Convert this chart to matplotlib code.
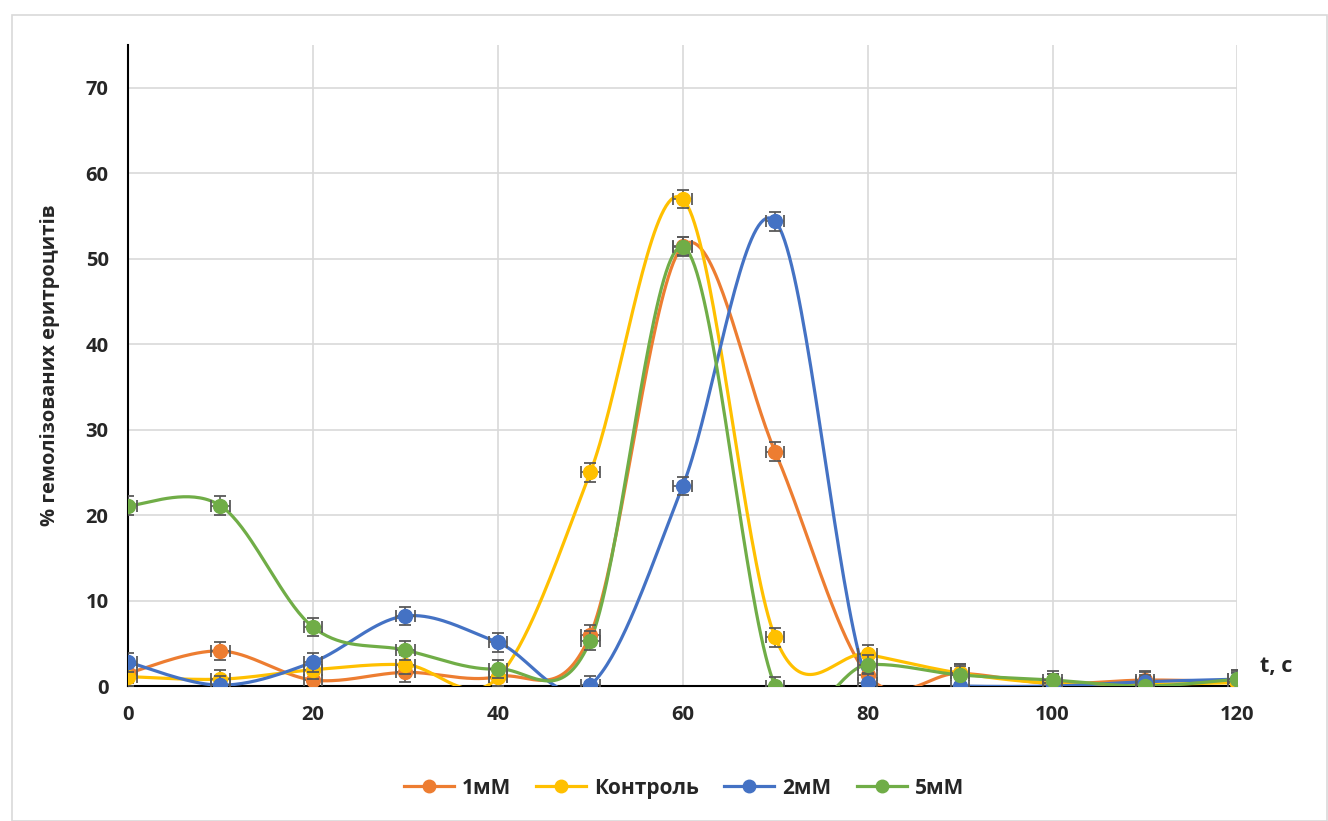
import numpy as np
import matplotlib
matplotlib.use("Agg")
import matplotlib.pyplot as plt
from matplotlib.lines import Line2D
from matplotlib.patches import Rectangle

plt.rcParams['font.family'] = ['Open Sans', 'DejaVu Sans']

t = [0, 10, 20, 30, 40, 50, 60, 70, 80, 90, 100, 110, 120]

series_names = ["1мМ", "Контроль", "2мМ", "5мМ"]
series_colors = ["#ED7D31", "#FFC000", "#4472C4", "#70AD47"]

vals_1mm = [1.5, 4.1, 0.7, 1.6, 1.1, 6.0, 51.5, 27.4, 1.3, 1.5, 0.3, 0.7, 0.5]
vals_control = [1.1, 0.8, 1.9, 2.5, 1.0, 25.0, 57.0, 5.7, 3.7, 1.5, 0.3, 0.2, 0.4]
vals_2mm = [2.8, 0.1, 2.8, 8.2, 5.1, 0.1, 23.4, 54.4, 0.4, 0.0, 0.0, 0.5, 0.8]
vals_5mm = [21.1, 21.1, 6.9, 4.2, 2.0, 5.3, 51.4, 0.0, 2.5, 1.3, 0.7, 0.0, 0.8]

all_vals = [vals_1mm, vals_control, vals_2mm, vals_5mm]

x_err = 1.0
y_err = 1.1


def smooth_curve(xs, ys, n=40):
    """Catmull-Rom style Bezier smoothing through the points."""
    xs = np.asarray(xs, float)
    ys = np.asarray(ys, float)
    pts = np.column_stack([xs, ys])
    out = []
    for i in range(len(pts) - 1):
        p0 = pts[i - 1] if i > 0 else pts[i]
        p1 = pts[i]
        p2 = pts[i + 1]
        p3 = pts[i + 2] if i + 2 < len(pts) else pts[i + 1]
        c1 = p1 + (p2 - p0) / 6.0
        c2 = p2 - (p3 - p1) / 6.0
        s = np.linspace(0, 1, n)[:, None]
        seg = ((1 - s) ** 3) * p1 + 3 * ((1 - s) ** 2) * s * c1 + 3 * (1 - s) * s ** 2 * c2 + s ** 3 * p2
        if i > 0:
            seg = seg[1:]
        out.append(seg)
    out = np.vstack(out)
    return out[:, 0], out[:, 1]


fig = plt.figure(figsize=(13.28, 8.21), dpi=100)
fig.patches.append(Rectangle((0.009, 0.0), 0.99, 0.982, transform=fig.transFigure,
                             fill=False, edgecolor="#D9D9D9", linewidth=1.2))
ax = fig.add_axes([0.0964, 0.1644, 0.8354, 0.7806])

for k, (name, col, ys) in enumerate(zip(series_names, series_colors, all_vals)):
    sx, sy = smooth_curve(t, ys)
    ax.plot(sx, sy, color=col, lw=2.3, zorder=3 + k * 0.1, solid_capstyle='round')
    ax.errorbar(t, ys, xerr=x_err, yerr=y_err, fmt='none', ecolor="#595959",
                elinewidth=1.2, capsize=4.5, capthick=1.3, zorder=3.5 + k * 0.1)
    ax.plot(t, ys, 'o', color=col, ms=10, zorder=3.6 + k * 0.1)

ax.set_xlim(0, 120)
ax.set_ylim(0, 75)
ax.set_xticks(range(0, 121, 20))
ax.set_yticks(range(0, 71, 10))
ax.grid(True, color="#D9D9D9", linewidth=1.2)
ax.set_axisbelow(True)
for side in ("top", "right"):
    ax.spines[side].set_visible(False)
for side in ("left", "bottom"):
    ax.spines[side].set_color("black")
    ax.spines[side].set_linewidth(1.5)
ax.tick_params(length=0, labelsize=14.5, pad=14)
for lab in ax.get_xticklabels() + ax.get_yticklabels():
    lab.set_fontweight("bold")
    lab.set_color("#262626")

ax.set_ylabel("% гемолізованих еритроцитів", fontsize=14.5, fontweight="bold",
              color="#262626", labelpad=18)
ax.text(1.0 + 0.02, 0.03, "t, с", transform=ax.transAxes, fontsize=15.5,
        fontweight="bold", color="#262626", va="center", ha="left")

handles = [Line2D([0], [0], color=c, lw=2.3, marker='o', ms=9) for c in series_colors]
leg = fig.legend(handles, series_names, loc="center", bbox_to_anchor=(0.515, 0.04),
                 ncol=4, frameon=False, fontsize=15, handlelength=2.4,
                 columnspacing=1.2, handletextpad=0.4)
for txt in leg.get_texts():
    txt.set_fontweight("bold")
    txt.set_color("#262626")

fig.savefig("out.png", dpi=100)
